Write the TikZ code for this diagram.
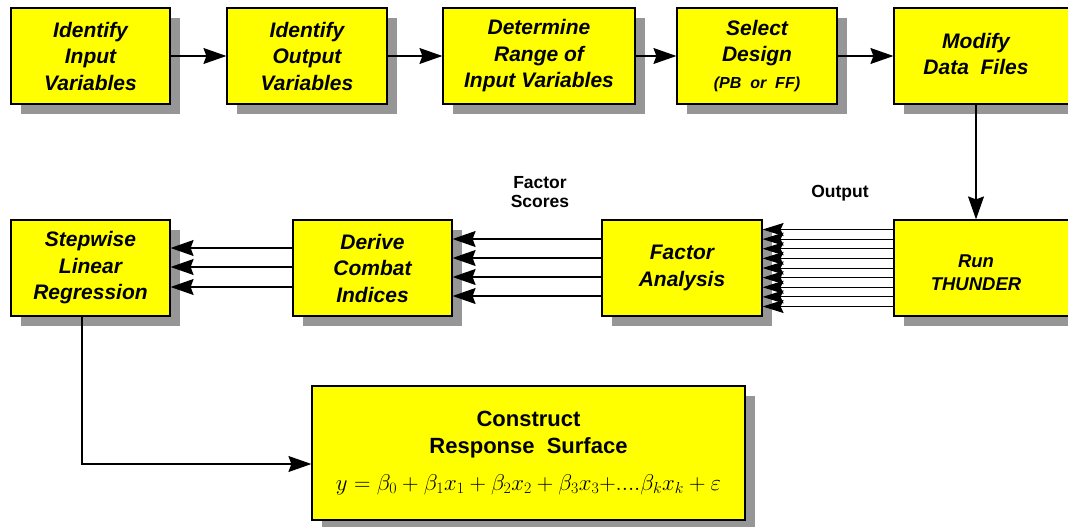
\documentclass[tikz,border=0pt]{standalone}
\usepackage{fontspec}
\usepackage{graphicx}
\setmainfont{Liberation Sans}
\usetikzlibrary{arrows.meta,shadows}
\definecolor{shadowgray}{RGB}{150,150,150}
\definecolor{boxyellow}{RGB}{255,255,0}
\begin{document}
\begin{tikzpicture}[x=1pt,y=-1pt,
  box/.style={draw=black,line width=1.2pt,fill=boxyellow,align=center,inner sep=0pt,
    minimum height=96pt,
    font=\fontsize{21}{26.5}\selectfont\bfseries\itshape,
    drop shadow={shadow xshift=10pt,shadow yshift=-10pt,fill=shadowgray,opacity=1}},
  arr/.style={line width=1.2pt,-{Stealth[length=23pt,width=16pt,inset=3pt]}},
  outarr/.style={line width=1pt,-{Stealth[length=21pt,width=13pt,inset=3pt]}},
  lbl/.style={align=center,font=\fontsize{17.5}{18.5}\selectfont\bfseries}
]
\clip (0,0) rectangle (1068,527);
\useasboundingbox (0,0) rectangle (1068,527);

% top row
\node[box,minimum width=159pt] (b1) at (90.5,56) {Identify\\Input\\Variables};
\node[box,minimum width=160pt] (b2) at (307,56) {Identify\\Output\\Variables};
\node[box,minimum width=192pt] (b3) at (539,56) {Determine\\Range of\\Input Variables};
\node[box,minimum width=160pt] (b4) at (757,56) {Select\\Design\\{\fontsize{16}{22}\selectfont (PB~~or~~FF)}};
\node[box,minimum width=182pt] (b5) at (985,56) {\begin{tabular}{@{}c@{}}Modify\\[-1pt]Data~~Files\end{tabular}\hspace*{18pt}};

% second row
\node[box,minimum width=159pt] (s1) at (90.5,268) {Stepwise\\Linear\\Regression};
\node[box,minimum width=159pt] (d) at (372.5,268) {Derive\\Combat\\Indices};
\node[box,minimum width=160pt] (f) at (682,268) {Factor\\Analysis};
\node[box,minimum width=182pt,font=\fontsize{18.5}{23}\selectfont\bfseries\itshape] (r) at (985,268) {\raisebox{-10.5pt}[0pt][0pt]{\begin{tabular}{@{}c@{}}Run\\THUNDER\end{tabular}}\hspace*{18pt}};

% construct box
\node[box,minimum width=433pt,minimum height=134pt,font=\fontsize{22}{27}\selectfont\bfseries] (c) at (528.5,453)
  {Construct\\Response~~Surface\\[10pt]
   {\fontsize{23}{24}\selectfont\mdseries\resizebox{385pt}{!}{$y=\beta_0+\beta_1x_1+\beta_2x_2+\beta_3x_3{+}....\beta_kx_k+\varepsilon$}}};

% labels
\node[lbl] (fs) at (540,192) {Factor\\Scores};
\node[lbl] (out) at (840,193) {Output};

% top row arrows
\draw[arr] (b1.east) -- (b2.west);
\draw[arr] (b2.east) -- (b3.west);
\draw[arr] (b3.east) -- (b4.west);
\draw[arr] (b4.east) -- (b5.west);
\draw[arr] ([xshift=-9pt]b5.south) -- ([xshift=-9pt]r.north);

% output arrows
\foreach \i in {0,...,8}{
  \draw[outarr] ([yshift={-(\i-4)*9.625pt}]r.west) -- ([yshift={-(\i-4)*9.625pt}]f.east);
}

% factor scores arrows
\foreach \o in {-29,-10,9,28}{
  \draw[arr] ([yshift=-\o pt]f.west) -- ([yshift=-\o pt]d.east);
}

% derive to stepwise
\foreach \o in {-20,-1,19}{
  \draw[arr] ([yshift=-\o pt]d.west) -- ([yshift=-\o pt]s1.east);
}

% stepwise to construct
\draw[arr] ([xshift=-8.5pt]s1.south) |- ([yshift=-11pt]c.west);
\end{tikzpicture}
\end{document}
